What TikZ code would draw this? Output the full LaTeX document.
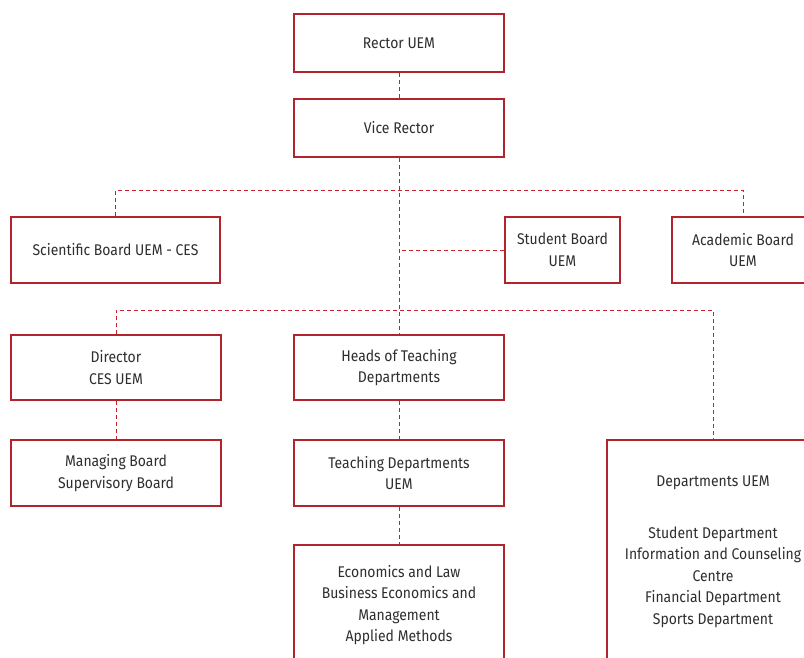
\documentclass[tikz,border=0pt]{standalone}
\usepackage{fontspec}
\setmainfont{Fira Sans}[FakeStretch=0.9]
\definecolor{boxred}{HTML}{B3232C}
\definecolor{linered}{HTML}{C8202F}
\definecolor{txt}{HTML}{2E2E2E}
\begin{document}
\begin{tikzpicture}[x=1pt,y=-1pt,
  box/.style={draw=boxred,line width=2.8pt,fill=white,align=center,text=txt,
    font=\fontsize{15.5}{21.5}\selectfont,inner sep=0pt},
  conn/.style={draw=linered,line width=1pt,dash pattern=on 4pt off 3pt}]
\useasboundingbox (0,0) rectangle (804,657);
% nodes
\node[box,minimum width=210,minimum height=58] (rector) at (399,43) {Rector UEM};
\node[box,minimum width=210,minimum height=58] (vice) at (399,128) {Vice Rector};
\node[box,minimum width=209,minimum height=66] (sci) at (115.5,250) {Scientific Board UEM - CES};
\node[box,minimum width=115,minimum height=66] (stud) at (562.5,250) {Student Board\\UEM};
\node[box,minimum width=142,minimum height=66] (acad) at (743,250) {Academic Board\\UEM};
\node[box,minimum width=210,minimum height=65] (dir) at (116,367.5) {Director\\CES UEM};
\node[box,minimum width=210,minimum height=65] (heads) at (399,367.5) {Heads of Teaching\\Departments};
\node[box,minimum width=210,minimum height=66] (manag) at (116,473) {Managing Board\\Supervisory Board};
\node[box,minimum width=210,minimum height=66] (teach) at (399,473) {Teaching Departments\\UEM};
\node[box,minimum width=210,minimum height=120] (econ) at (399,605) {Economics and Law\\Business Economics and\\Management\\Applied Methods};
\node[box,minimum width=212,minimum height=224] (deps) at (713,552) {Departments UEM\\[30pt]Student Department\\Information and Counseling\\Centre\\Financial Department\\Sports Department};
% connectors
\draw[conn] (rector.south) -- (vice.north);
\draw[conn] (vice.south) -- (heads.north);
\draw[conn] (sci.north) |- (acad.north |- 0,190) -- (acad.north);
\draw[conn] (stud.west) -- (stud.west -| vice.south);
\draw[conn] (dir.north) |- (deps.north |- 0,310) -- (deps.north);
\draw[conn] (dir.south) -- (manag.north);
\draw[conn] (heads.south) -- (teach.north);
\draw[conn] (teach.south) -- (econ.north);
\end{tikzpicture}
\end{document}
